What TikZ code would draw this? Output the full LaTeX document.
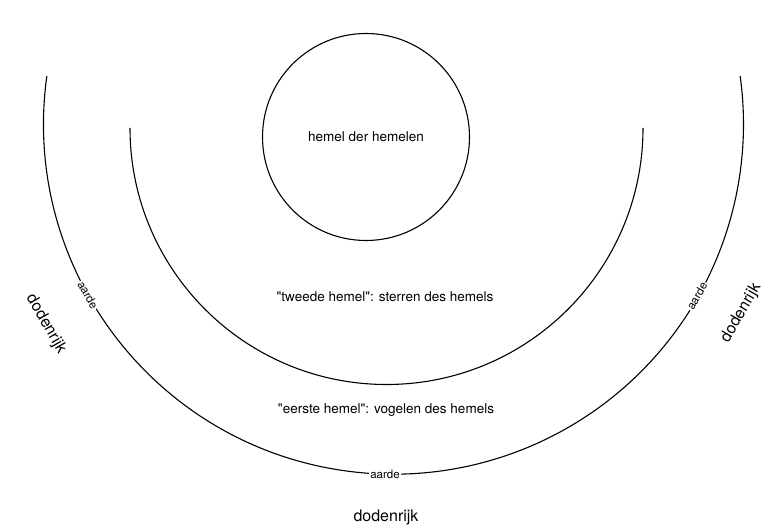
\documentclass[tikz,border=0pt]{standalone}
\usepackage{fontspec}
\setmainfont[Ligatures=TeXOff]{TeX Gyre Heros}
\begin{document}
\begin{tikzpicture}[x=1pt,y=1pt,
  ln/.style={line width=1.1pt, black},
  lbl/.style={font=\fontsize{13.5}{16}\selectfont, inner sep=0pt},
  earth/.style={font=\fontsize{11.5}{13}\selectfont, fill=white, inner sep=1.2pt},
  dead/.style={font=\fontsize{16}{18}\selectfont, inner sep=0pt}]
\useasboundingbox (0,0) rectangle (772,-526);
% outer arc
\draw[ln] (393.5,-124.2) ++(172.1:350) arc[start angle=172.1, end angle=367.9, radius=350];
% middle arc
\draw[ln] (386.5,-128) ++(180:256.5) arc[start angle=180, end angle=360, radius=256.5];
% circle
\draw[ln] (366,-137) circle[radius=103.5];
\node[lbl] (hh) at (366,-137) {hemel der hemelen};
\node[lbl] (th) at (385,-297) {"tweede hemel": sterren des hemels};
\node[lbl] (eh) at (386,-410) {"eerste hemel": vogelen des hemels};
\node[earth] (ab) at (385,-474) {aarde};
\node[earth, rotate=-60.8] (al) at (88,-295) {aarde};
\node[earth, rotate=60.5] (ar) at (697,-296) {aarde};
\node[dead] (db) at (386,-517) {dodenrijk};
\node[dead, rotate=-60] (dl) at (46,-324) {dodenrijk};
\node[dead, rotate=60] (dr) at (741,-313) {dodenrijk};
\end{tikzpicture}
\end{document}
